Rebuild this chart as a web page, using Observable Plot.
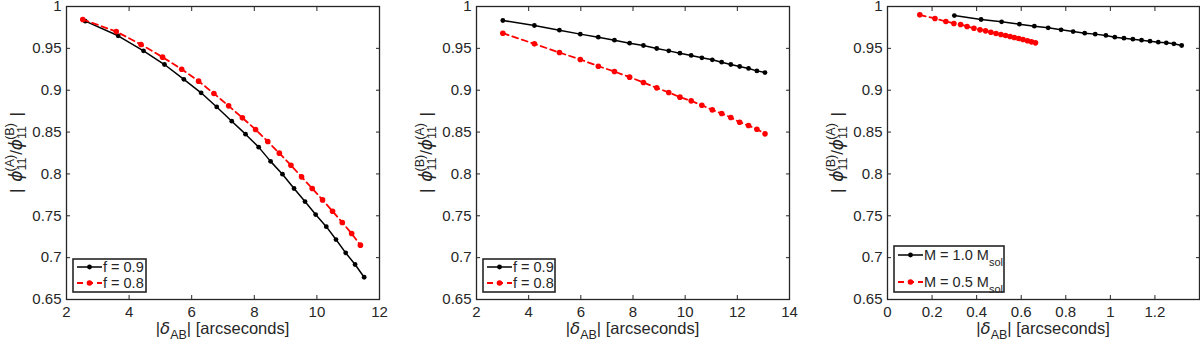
<!DOCTYPE html>
<html><head><meta charset="utf-8">
<script src="https://cdn.jsdelivr.net/npm/d3@7"></script>
<script src="https://cdn.jsdelivr.net/npm/@observablehq/plot@0.6"></script>
<style>
body{margin:0;background:#fff;}
#wrap{position:relative;width:1200px;height:342px;overflow:hidden;background:#fff;}
.panel{position:absolute;top:0;}
</style></head><body><div id="wrap"></div>
<script>
// ---- Panel 1 data: |phi11(A)/phi11(B)| vs |delta_AB|
const p1X_f09 = [2.60,3.65,4.46,5.13,5.75,6.30,6.80,7.28,7.72,8.14,8.52,8.90,9.27,9.62,9.96,10.30,10.61,10.92,11.22,11.51];
const p1Y_f09 = [0.9825,0.965,0.947,0.9307,0.913,0.8969,0.880,0.863,0.8475,0.832,0.815,0.7997,0.7826,0.767,0.7515,0.737,0.7216,0.7057,0.6918,0.6766];
const p1X_f08 = [2.52,3.59,4.38,5.07,5.68,6.22,6.71,7.18,7.62,8.04,8.43,8.80,9.17,9.51,9.85,10.18,10.50,10.81,11.11,11.39];
const p1Y_f08 = [0.9845,0.970,0.9546,0.9395,0.9251,0.9108,0.896,0.8813,0.867,0.853,0.8387,0.8248,0.8104,0.7965,0.7826,0.769,0.7555,0.742,0.7288,0.7149];
// ---- Panel 2 data
const p2X = [3.01,4.22,5.18,5.98,6.67,7.29,7.87,8.40,8.91,9.37,9.80,10.23,10.64,11.04,11.40,11.75,12.09,12.43,12.75,13.06];
const p2Y_f09 = [0.9833,0.9773,0.9717,0.967,0.9634,0.9598,0.9562,0.9534,0.9498,0.947,0.9442,0.9415,0.9387,0.9363,0.9335,0.9307,0.9283,0.926,0.9231,0.9211];
const p2Y_f08 = [0.9681,0.9554,0.945,0.9367,0.9287,0.9223,0.9156,0.9092,0.9028,0.8973,0.8917,0.8873,0.8821,0.8765,0.8722,0.8674,0.8618,0.8578,0.8534,0.8479];
// ---- Panel 3 data
const p3X_m10 = [0.300,0.420,0.512,0.592,0.659,0.721,0.779,0.833,0.885,0.932,0.980,1.020,1.061,1.101,1.140,1.178,1.215,1.251,1.285,1.320];
const p3Y_m10 = [0.9892,0.9845,0.9817,0.9789,0.9765,0.9745,0.9721,0.9701,0.9681,0.967,0.9654,0.9634,0.9622,0.961,0.9598,0.9586,0.9574,0.9566,0.9554,0.9534];
const p3X_m05 = [0.145,0.213,0.262,0.298,0.328,0.357,0.388,0.415,0.440,0.464,0.487,0.509,0.530,0.550,0.569,0.589,0.608,0.628,0.646,0.664];
const p3Y_m05 = [0.990,0.9857,0.9821,0.9797,0.9785,0.9761,0.9741,0.9721,0.9709,0.9693,0.9677,0.9665,0.9654,0.9642,0.963,0.9618,0.9606,0.959,0.9578,0.9566];
// ---- ticks and labels
const yTicks = [0.65,0.7,0.75,0.8,0.85,0.9,0.95,1];
const p1XTicks = [2,4,6,8,10,12];
const p2XTicks = [2,4,6,8,10,12,14];
const p3XTicks = [0,0.2,0.4,0.6,0.8,1,1.2];
const legendF = ["f = 0.9","f = 0.8"];
const legendM = [["M = 1.0 M","sol"],["M = 0.5 M","sol"]];
const xLabelText = "| [arcseconds]";

const INK = "#262626";
const RED = "#ff0000";
const fmt = d3.format("~g");
const zip = (xs, ys) => xs.map((x, i) => ({x, y: ys[i]}));

function makePanel(o) {
  const H = 342, mt = 6, mb = 43;
  const plot = Plot.plot({
    width: 400, height: H,
    marginLeft: o.ml, marginRight: o.mr, marginTop: mt, marginBottom: mb,
    style: {fontFamily: "'Liberation Sans', Arial, sans-serif", fontSize: "15px", color: INK, background: "transparent", overflow: "visible"},
    x: {domain: o.xDomain},
    y: {domain: [0.65, 1]},
    marks: [
      Plot.axisX(o.xTicks, {anchor: "bottom", tickSize: -4, tickPadding: 11, tickFormat: fmt, label: null, stroke: INK, fill: INK, fontSize: 15}),
      Plot.axisX(o.xTicks, {anchor: "top", tickSize: -4, fill: "none", stroke: INK, label: null}),
      Plot.axisY(yTicks, {anchor: "left", tickSize: -4, tickPadding: 9, tickFormat: fmt, label: null, stroke: INK, fill: INK, fontSize: 15}),
      Plot.axisY(yTicks, {anchor: "right", tickSize: -4, fill: "none", stroke: INK, label: null}),
      ...o.series.flatMap(s => [
        Plot.line(s.data, {x: "x", y: "y", stroke: s.color, strokeWidth: s.sw, strokeDasharray: s.dash}),
        Plot.dot(s.data, {x: "x", y: "y", r: s.r, fill: s.color, stroke: "none"})
      ]),
      Plot.frame({stroke: INK, strokeWidth: 1.3})
    ]
  });
  const svg = d3.select(plot);
  const fl = o.ml, fr = 400 - o.mr, fb = H - mb, ft = mt;
  const cx = (fl + fr) / 2, cy = (ft + fb) / 2;

  // x label: |δ_AB| [arcseconds]
  const tx = svg.append("text").attr("x", cx).attr("y", fb + 35)
    .attr("text-anchor", "middle").attr("font-size", 16.5).attr("fill", INK);
  tx.append("tspan").text("|");
  tx.append("tspan").attr("font-style", "italic").attr("font-family", "'DejaVu Sans', sans-serif").text("δ");
  tx.append("tspan").attr("font-size", 12.5).attr("dy", 5).text("AB");
  tx.append("tspan").attr("dy", -5).text(xLabelText);

  // y label: | ϕ11^(top) / ϕ11^(bot) |
  const ty = svg.append("text").attr("transform", `translate(${fl - 44},${cy}) rotate(-90)`)
    .attr("text-anchor", "middle").attr("font-size", 17).attr("fill", INK);
  const ss = 12.5;
  const subW = 2 * 0.556 * ss;
  ty.append("tspan").text("| ");
  ty.append("tspan").attr("dx", 2).attr("font-style", "italic").attr("font-family", "'DejaVu Sans', sans-serif").text("ϕ");
  ty.append("tspan").attr("font-size", ss).attr("dy", 4).text("11");
  ty.append("tspan").attr("font-size", ss).attr("dx", -subW).attr("dy", -12).text(`(${o.sup1})`);
  ty.append("tspan").attr("dy", 8).text("/");
  ty.append("tspan").attr("font-style", "italic").attr("font-family", "'DejaVu Sans', sans-serif").text("ϕ");
  ty.append("tspan").attr("font-size", ss).attr("dy", 4).text("11");
  ty.append("tspan").attr("font-size", ss).attr("dx", -subW).attr("dy", -12).text(`(${o.sup2})`);
  ty.append("tspan").attr("dy", 8).attr("dx", 2).text(" |");

  // legend
  const bx = fl + 7, bw = o.legW, bh = o.legH, by = fb - 7 - bh;
  const g = svg.append("g").attr("text-anchor", "start");
  g.append("rect").attr("x", bx).attr("y", by).attr("width", bw).attr("height", bh)
    .attr("fill", "white").attr("stroke", INK).attr("stroke-width", 1.6);
  o.series.forEach((s, i) => {
    const ry = by + o.rowY[i];
    g.append("line").attr("x1", bx + 4).attr("x2", bx + 29).attr("y1", ry).attr("y2", ry)
      .attr("stroke", s.color).attr("stroke-width", s.sw).attr("stroke-dasharray", s.dash || null);
    g.append("circle").attr("cx", bx + 16.5).attr("cy", ry).attr("r", s.r).attr("fill", s.color);
    const t = g.append("text").attr("x", bx + 30).attr("y", ry + 5).attr("text-anchor", "start")
      .attr("font-size", 14.5).attr("fill", INK);
    const lab = o.legend[i];
    if (Array.isArray(lab)) {
      t.append("tspan").text(lab[0]);
      t.append("tspan").attr("font-size", 11).attr("dy", 6).text(lab[1]);
    } else t.text(lab);
  });

  const div = document.createElement("div");
  div.className = "panel";
  div.style.left = o.left + "px";
  div.appendChild(plot);
  document.getElementById("wrap").appendChild(div);
}

const blackS = d => ({data: d, color: "black", sw: 1.5, r: 2.4, dash: null});
const redS = d => ({data: d, color: RED, sw: 1.8, r: 2.8, dash: "6,4"});

makePanel({left: 0, ml: 66, mr: 21, xDomain: [2, 12], xTicks: p1XTicks, sup1: "A", sup2: "B",
  series: [blackS(zip(p1X_f09, p1Y_f09)), redS(zip(p1X_f08, p1Y_f08))],
  legend: legendF, legW: 73, legH: 33, rowY: [8, 24]});
makePanel({left: 400, ml: 76, mr: 11, xDomain: [2, 14], xTicks: p2XTicks, sup1: "B", sup2: "A",
  series: [blackS(zip(p2X, p2Y_f09)), redS(zip(p2X, p2Y_f08))],
  legend: legendF, legW: 72, legH: 33, rowY: [8, 24]});
makePanel({left: 800, ml: 87, mr: 1, xDomain: [0, 1.4], xTicks: p3XTicks, sup1: "B", sup2: "A",
  series: [blackS(zip(p3X_m10, p3Y_m10)), redS(zip(p3X_m05, p3Y_m05))],
  legend: legendM, legW: 110, legH: 46, rowY: [9, 36]});
</script>
</body></html>
